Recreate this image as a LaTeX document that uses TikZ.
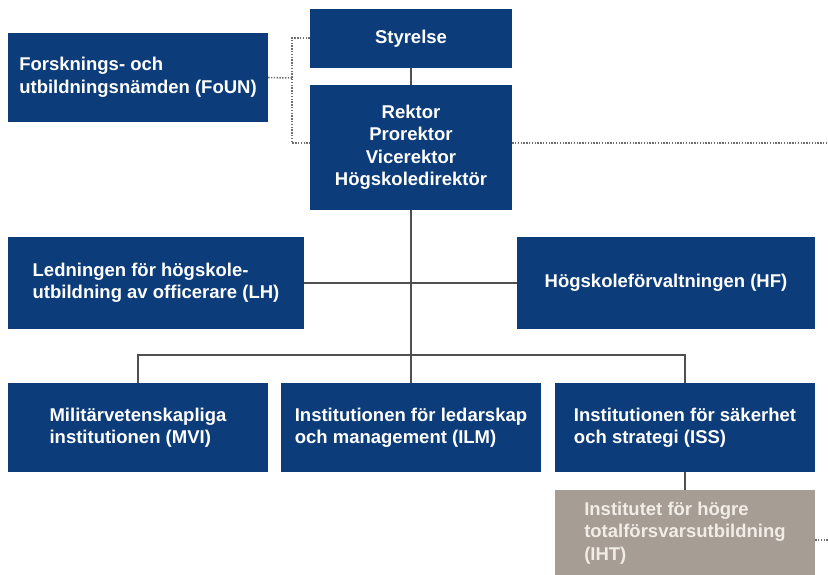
\documentclass[tikz,border=0pt]{standalone}
\usepackage{fontspec}
\setmainfont{Liberation Sans}
\definecolor{navy}{RGB}{12,60,122}
\definecolor{taupe}{RGB}{166,157,148}
\definecolor{taupetext}{RGB}{240,236,230}
\definecolor{linegray}{RGB}{80,80,80}
\definecolor{dotgray}{RGB}{110,110,110}
\begin{document}
\begin{tikzpicture}[x=1pt,y=-1pt,
  box/.style={fill=navy,text=white,font=\fontsize{18.5}{22.5}\selectfont\bfseries,inner sep=0pt,anchor=center},
  graybox/.style={box,fill=taupe,text=taupetext},
  conn/.style={draw=linegray,line width=1.4pt},
  dots/.style={draw=dotgray,line width=1.6pt,dash pattern=on 1.4pt off 1.4pt}]
\useasboundingbox[fill=white] (0,0) rectangle (828,574);
\node[box,minimum width=202,minimum height=59,align=center] (sty) at (411,38.5) {Styrelse};
\node[box,minimum width=260,minimum height=89,align=left] (foun) at (138,77.5) {Forsknings- och\\utbildningsnämden (FoUN)};
\node[box,minimum width=202,minimum height=125,align=center] (rek) at (411,147.5) {Rektor\\Prorektor\\Vicerektor\\Högskoledirektör};
\node[box,minimum width=296,minimum height=92,align=left] (lh) at (156,283) {Ledningen för högskole-\\utbildning av officerare (LH)};
\node[box,minimum width=298,minimum height=92,align=center] (hf) at (666,283) {Högskoleförvaltningen (HF)};
\node[box,minimum width=260,minimum height=89,align=left] (mvi) at (138,427.5) {Militärvetenskapliga\\institutionen (MVI)};
\node[box,minimum width=260,minimum height=89,align=left] (ilm) at (411,427.5) {Institutionen för ledarskap\\och management (ILM)};
\node[box,minimum width=260,minimum height=89,align=left] (iss) at (685,427.5) {Institutionen för säkerhet\\och strategi (ISS)};
\node[graybox,minimum width=260,minimum height=86,align=left] (iht) at (685,533) {Institutet för högre\\totalförsvarsutbildning\\(IHT)};
% connectors
\coordinate (bus) at (411,355);
\coordinate (fbr) at (292,78);
\coordinate (rdot) at (828,143);
\coordinate (idot) at (828,540);
\draw[conn] (sty.south) -- (rek.north);
\draw[conn] (rek.south) -- (bus);
\draw[conn] (lh.east) -- (hf.west);
\draw[conn] (mvi.north) |- (bus) -| (iss.north);
\draw[conn] (bus) -- (ilm.north);
\draw[conn] (iss.south) -- (iht.north);
% dotted
\draw[dots] (sty.west |- 0,38) -| (fbr) |- (rek.west |- 0,143);
\draw[dots] (foun.east) -- (fbr);
\draw[dots] (rek.east |- rdot) -- (rdot);
\draw[dots] (iht.east |- idot) -- (idot);
\end{tikzpicture}
\end{document}
